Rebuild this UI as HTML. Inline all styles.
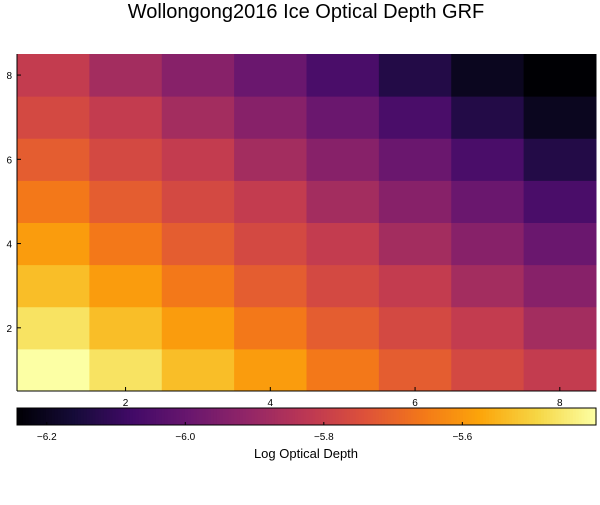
<!DOCTYPE html>
<html><head><meta charset="utf-8"><style>
body{margin:0;background:#fff;font-family:"Liberation Sans",sans-serif}
</style></head><body>
<svg id="chart" width="600" height="500" xmlns="http://www.w3.org/2000/svg" font-family="Liberation Sans, sans-serif">
<text x="306" y="18" font-size="20" text-anchor="middle">Wollongong2016 Ice Optical Depth GRF</text>
<g id="cells"></g><g id="axes"></g><g id="cbar"></g>
<text x="306" y="458" font-size="13" text-anchor="middle">Log Optical Depth</text>
</svg>
<script>
const xCats=[1,2,3,4,5,6,7,8];
const yCats=[1,2,3,4,5,6,7,8];
const diagValues=[-5.407,-5.466,-5.532,-5.591,-5.658,-5.716,-5.766,-5.808,-5.875,-5.934,-5.992,-6.059,-6.134,-6.201,-6.243];
const zValues=yCats.map(y=>xCats.map(x=>diagValues[x+y-2]));
const xTicks=[2,4,6,8], yTicks=[2,4,6,8];
const cbTicks=[-6.2,-6.0,-5.8,-5.6];
const cbLabels=["\u22126.2","\u22126.0","\u22125.8","\u22125.6"];
const vmin=-6.243,vmax=-5.407;
const L=17,R=596,T=54,B=391;
const sx=v=>L+(v-0.5)/8*(R-L), sy=v=>B-(v-0.5)/8*(B-T);
const stops=["#000004","#160b39","#420a68","#6a176e","#932667","#bc3754","#dd513a","#f37819","#fca50a","#f6d746","#fcffa4"];
function hex(h){return [1,3,5].map(i=>parseInt(h.substr(i,2),16));}
function cmap(t){t=Math.max(0,Math.min(1,t));const p=t*10,i=Math.min(9,Math.floor(p)),f=p-i;const a=hex(stops[i]),b=hex(stops[i+1]);return "rgb("+a.map((v,k)=>Math.round(v+(b[k]-v)*f)).join(",")+")";}
const NS="http://www.w3.org/2000/svg";
function mk(tag,attrs,parent){const e=document.createElementNS(NS,tag);for(const k in attrs)e.setAttribute(k,attrs[k]);parent.appendChild(e);return e;}
const cells=document.getElementById("cells");
yCats.forEach((y,j)=>xCats.forEach((x,i)=>{
 const v=zValues[j][i];
 const r=mk("rect",{x:sx(x-0.5),y:sy(y+0.5),width:sx(x+0.5)-sx(x-0.5)+0.5,height:sy(y-0.5)-sy(y+0.5)+0.5,fill:cmap((v-vmin)/(vmax-vmin))},cells);
 
 
}));
const ax=document.getElementById("axes");
mk("line",{x1:L,y1:T,x2:L,y2:B,stroke:"#000"},ax);
mk("line",{x1:L,y1:B,x2:R,y2:B,stroke:"#000"},ax);
xTicks.forEach(v=>{mk("line",{x1:sx(v),y1:B,x2:sx(v),y2:B-4,stroke:"#000"},ax);
 const t=mk("text",{x:sx(v),y:B+15,"font-size":10,"text-anchor":"middle"},ax);t.textContent=v;
 
 });
yTicks.forEach(v=>{mk("line",{x1:L,y1:sy(v),x2:L+4,y2:sy(v),stroke:"#000"},ax);
 const t=mk("text",{x:12,y:sy(v)+4,"font-size":10,"text-anchor":"end"},ax);t.textContent=v;
 
 });
const cb=document.getElementById("cbar");
const CT=408,CB=425;
const cx=v=>L+(v-vmin)/(vmax-vmin)*(R-L);
for(let i=0;i<200;i++){const x0=L+i*(R-L)/200;mk("rect",{x:x0,y:CT,width:(R-L)/200+0.6,height:CB-CT,fill:cmap((i+0.5)/200)},cb);}
mk("rect",{x:L,y:CT,width:R-L,height:CB-CT,fill:"none",stroke:"#000","stroke-width":1},cb);
cbTicks.forEach((v,i)=>{mk("line",{x1:cx(v),y1:CB,x2:cx(v),y2:CB-3,stroke:"#000"},cb);
 const t=mk("text",{x:cx(v),y:CB+15,"font-size":10,"text-anchor":"middle"},cb);t.textContent=cbLabels[i];
 
 });
</script>
</body></html>
